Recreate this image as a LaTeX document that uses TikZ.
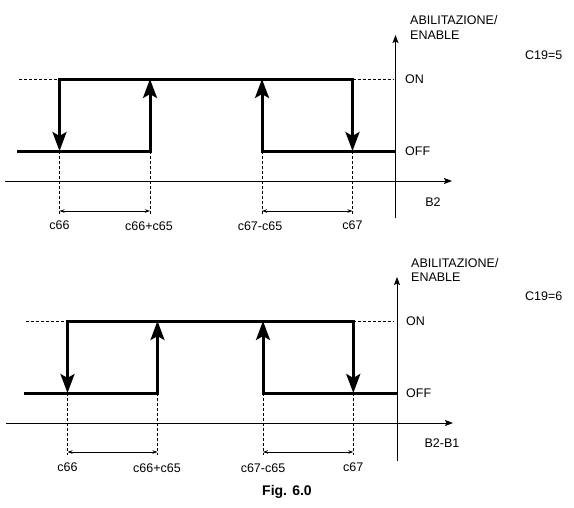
\documentclass[tikz,border=0pt]{standalone}
\usepackage{fontspec}
\setmainfont{Liberation Sans}
\usetikzlibrary{arrows.meta}
\tikzset{
  signalline/.style={line width=3pt,line join=miter,draw=black},
  switcharrow/.style={signalline,-{Stealth[length=19pt,width=14pt,inset=4pt]}},
  switchboth/.style={signalline,{Stealth[length=19pt,width=14pt,inset=4pt]}-{Stealth[length=19pt,width=14pt,inset=4pt]}},
  axisline/.style={line width=1pt,-{Stealth[length=8pt,width=6pt,inset=1.5pt]}},
  guideline/.style={line width=0.8pt,dash pattern=on 3pt off 2pt},
  spanline/.style={line width=0.7pt,{Stealth[length=5pt,width=3.5pt]}-{Stealth[length=5pt,width=3.5pt]}},
  txt/.style={font=\fontsize{12.5}{14}\selectfont,inner sep=0pt},
  figlbl/.style={font=\bfseries\fontsize{14}{16}\selectfont,inner sep=0pt}
}
\begin{document}
\begin{tikzpicture}[x=1pt,y=-1pt]
\useasboundingbox (0,0) rectangle (574,507);
% ---- upper graph, C19=5
\coordinate (t-xl) at (5,181);
\coordinate (t-xr) at (452,181);
\coordinate (t-yb) at (395.5,218);
\coordinate (t-yt) at (395.5,35);
\draw[axisline] (t-xl) -- (t-xr);
\draw[axisline] (t-yb) -- (t-yt);
\foreach \n/\x in {a/59.5,b/150,c/262,d/352.5}{
  \coordinate (t-\n-on) at (\x,79);
  \coordinate (t-\n-off) at (\x,151);
  \coordinate (t-\n-dim) at (\x,211);
  \coordinate (t-\n-end) at (\x,214);
}
\coordinate (t-on-l) at (19,79);
\coordinate (t-off-l) at (17,151);
\coordinate (t-on-r) at (393,79);
\coordinate (t-off-r) at (395.5,151);
\draw[guideline] (t-on-l) -- (t-a-on);
\draw[guideline] (t-d-on) -- (t-on-r);
\foreach \n in {a,b,c,d} \draw[guideline] (t-\n-off) -- (t-\n-end);
\draw[switcharrow] (t-off-l) -- (t-b-off) -- (t-b-on);
\draw[switcharrow] (t-off-r) -- (t-c-off) -- (t-c-on);
\draw[switchboth] (t-a-off) -- (t-a-on) -- (t-d-on) -- (t-d-off);
\draw[spanline] (t-a-dim) -- (t-b-dim);
\draw[spanline] (t-c-dim) -- (t-d-dim);
\node[txt] (t-c66) at (59.5,225) {c66};
\node[txt] (t-c66c65) at (149,226) {c66+c65};
\node[txt] (t-c67c65) at (260,226) {c67-c65};
\node[txt] (t-c67) at (352.5,225) {c67};
\node[txt,anchor=west] (t-on) at (405,79) {ON};
\node[txt,anchor=west] (t-off) at (405,151) {OFF};
\node[txt,anchor=west] (t-en1) at (410,20) {ABILITAZIONE/};
\node[txt,anchor=west] (t-en2) at (410,35) {ENABLE};
\node[txt,anchor=west] (t-par) at (525,55) {C19=5};
\node[txt] (t-b2) at (433,202) {B2};
% ---- lower graph, C19=6
\coordinate (b-xl) at (6,423);
\coordinate (b-xr) at (453,423);
\coordinate (b-yb) at (397,461);
\coordinate (b-yt) at (397,277);
\draw[axisline] (b-xl) -- (b-xr);
\draw[axisline] (b-yb) -- (b-yt);
\foreach \n/\x in {a/67.5,b/157.5,c/263,d/353.3}{
  \coordinate (b-\n-on) at (\x,321);
  \coordinate (b-\n-off) at (\x,393);
  \coordinate (b-\n-dim) at (\x,452);
  \coordinate (b-\n-end) at (\x,455);
}
\coordinate (b-on-l) at (26,321);
\coordinate (b-off-l) at (24,393);
\coordinate (b-on-r) at (394,321);
\coordinate (b-off-r) at (397,393);
\draw[guideline] (b-on-l) -- (b-a-on);
\draw[guideline] (b-d-on) -- (b-on-r);
\foreach \n in {a,b,c,d} \draw[guideline] (b-\n-off) -- (b-\n-end);
\draw[switcharrow] (b-off-l) -- (b-b-off) -- (b-b-on);
\draw[switcharrow] (b-off-r) -- (b-c-off) -- (b-c-on);
\draw[switchboth] (b-a-off) -- (b-a-on) -- (b-d-on) -- (b-d-off);
\draw[spanline] (b-a-dim) -- (b-b-dim);
\draw[spanline] (b-c-dim) -- (b-d-dim);
\node[txt] (b-c66) at (67.5,467) {c66};
\node[txt] (b-c66c65) at (157,468) {c66+c65};
\node[txt] (b-c67c65) at (263,468) {c67-c65};
\node[txt] (b-c67) at (353.3,467) {c67};
\node[txt,anchor=west] (b-on) at (406,321) {ON};
\node[txt,anchor=west] (b-off) at (406,393) {OFF};
\node[txt,anchor=west] (b-en1) at (411,263) {ABILITAZIONE/};
\node[txt,anchor=west] (b-en2) at (411,277) {ENABLE};
\node[txt,anchor=west] (b-par) at (525,296) {C19=6};
\node[txt] (b-b21) at (442,443) {B2-B1};
% ---- caption
\node[figlbl] (fig) at (287,492) {Fig. 6.0};
\end{tikzpicture}
\end{document}
